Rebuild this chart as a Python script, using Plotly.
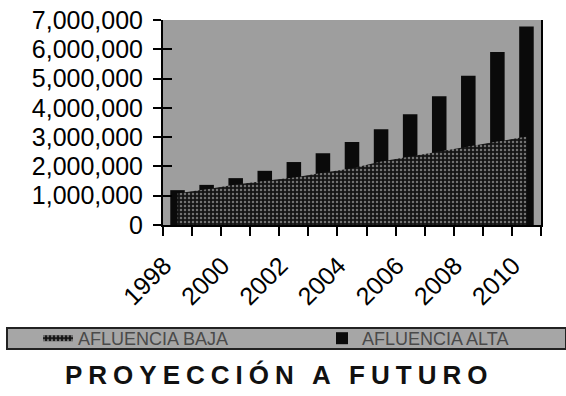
import plotly.graph_objects as go

# Projected yearly visitor flow, low and high scenarios
years = [1998, 1999, 2000, 2001, 2002, 2003, 2004, 2005, 2006, 2007, 2008, 2009, 2010]
afluencia_baja = [1080000, 1220000, 1380000, 1510000, 1620000, 1780000, 1940000,
                  2170000, 2340000, 2510000, 2680000, 2850000, 3020000]
afluencia_alta = [1190000, 1370000, 1600000, 1850000, 2150000, 2450000, 2830000,
                  3270000, 3780000, 4400000, 5100000, 5910000, 6780000]
label_years = [1998, 2000, 2002, 2004, 2006, 2008, 2010]
y_ticks = [0, 1000000, 2000000, 3000000, 4000000, 5000000, 6000000, 7000000]
series_names = ["AFLUENCIA BAJA", "AFLUENCIA ALTA"]
title_text = "PROYECCIÓN A FUTURO"

W, H = 566, 396
L, R, T, B = 163, 25, 20, 171
pw, ph = W - L - R, H - T - B


def px_x(px):
    return (px - L) / pw


def px_y(py):
    return (H - B - py) / ph


fig = go.Figure()

fig.add_trace(go.Scatter(
    x=years, y=afluencia_baja, name=series_names[0],
    mode="none", fill="tozeroy", fillcolor="#2a2a2a",
    fillpattern=dict(shape=".", fgcolor="#d0d0d0", bgcolor="#141414",
                     size=4, solidity=0.3),
    legend="legend",
))
fig.add_trace(go.Bar(
    x=years, y=afluencia_alta, name=series_names[1],
    width=0.5, marker=dict(color="#0a0a0a", line=dict(width=0)),
    legend="legend2",
))

boundaries = [y - 0.5 for y in years] + [years[-1] + 0.5]
font = "Arial, Liberation Sans, sans-serif"
legend_font = dict(family=font, size=18, color="#4a4a4a")

fig.update_layout(
    width=W, height=H,
    margin=dict(l=L, r=R, t=T, b=B),
    paper_bgcolor="white",
    plot_bgcolor="#9e9e9e",
    showlegend=True,
    legend=dict(
        orientation="h", x=px_x(38), xanchor="left",
        y=px_y(338.5), yanchor="middle",
        bgcolor="rgba(0,0,0,0)", borderwidth=0, font=legend_font,
    ),
    legend2=dict(
        orientation="h", x=px_x(322), xanchor="left",
        y=px_y(338.5), yanchor="middle",
        bgcolor="rgba(0,0,0,0)", borderwidth=0, font=legend_font,
    ),
    xaxis=dict(
        range=[years[0] - 0.5, years[-1] + 0.5],
        tickmode="array", tickvals=[v - 0.46 for v in label_years],
        ticktext=[str(v) for v in label_years],
        tickangle=-45, ticks="", showgrid=False, zeroline=False,
        showline=True, linecolor="black", linewidth=2,
        ticklabelstandoff=14, automargin=False,
        tickfont=dict(family=font, size=25, color="black"),
        minor=dict(tickmode="array", tickvals=boundaries, ticks="outside",
                   ticklen=9, tickwidth=2, tickcolor="black", showgrid=False),
    ),
    yaxis=dict(
        range=[0, 7000000], tickmode="array", tickvals=y_ticks,
        tickformat=",d", ticks="outside", ticklen=8, tickwidth=2,
        tickcolor="black", showgrid=False, zeroline=False,
        showline=True, linecolor="black", linewidth=2, mirror=True,
        ticklabelstandoff=5, automargin=False,
        tickfont=dict(family=font, size=25, color="black"),
    ),
    yaxis2=dict(
        overlaying="y", range=[0, 7000000], tickmode="array",
        tickvals=y_ticks, ticks="inside", ticklen=9, tickwidth=2,
        tickcolor="black", showticklabels=False, showgrid=False,
        zeroline=False, showline=False, automargin=False,
    ),
    shapes=[dict(
        type="rect", xref="paper", yref="paper",
        x0=px_x(7), x1=px_x(566), y0=px_y(349), y1=px_y(328),
        fillcolor="#a6a6a6", line=dict(color="#222222", width=2),
        layer="below",
    )],
    annotations=[dict(
        xref="paper", yref="paper", x=px_x(279), y=px_y(375),
        xanchor="center", yanchor="middle", showarrow=False,
        text=f'<b><span style="letter-spacing:6px">{title_text}</span></b>',
        font=dict(family=font, size=26, color="#111111"),
    )],
)

# invisible trace to activate the inner-tick axis
fig.add_trace(go.Scatter(x=[years[0]], y=[0], yaxis="y2", mode="none",
                         showlegend=False, hoverinfo="skip"))

fig.write_html("out.html")
